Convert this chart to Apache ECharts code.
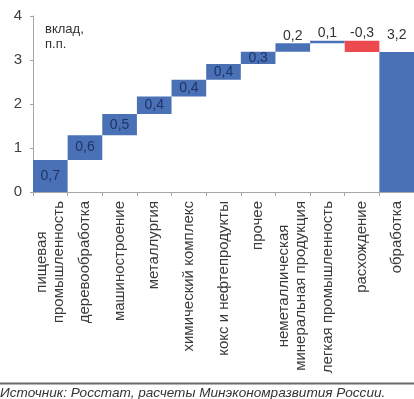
<!DOCTYPE html>
<html>
<head>
<meta charset="utf-8">
<script src="https://cdn.jsdelivr.net/npm/echarts@6/dist/echarts.min.js"></script>
<style>
html,body{margin:0;padding:0;background:#fff;}
#chart{width:414px;height:399px;}
</style>
</head>
<body>
<div id="chart"></div>
<script>
// Categories (x axis)
const categories = [
  "пищевая\nпромышленность",
  "деревообработка",
  "машиностроение",
  "металлургия",
  "химический комплекс",
  "кокс и нефтепродукты",
  "прочее",
  "неметаллическая\nминеральная продукция",
  "легкая промышленность",
  "расхождение",
  "обработка"
];
// Contributions, p.p.
const contributions = [0.73, 0.56, 0.48, 0.40, 0.38, 0.36, 0.28, 0.19, 0.06, -0.26];
// Total (last bar)
const totalValue = 3.18;
// Y axis ticks
const yTicks = [0, 1, 2, 3, 4];
const unitLines = ["вклад,", "п.п."];
const sourceText = "Источник: Росстат, расчеты Минэкономразвития России.";

const BLUE = '#4a70b6', RED = '#ec4a4f';

const baseData = [], visData = [];
let cum = 0;
contributions.forEach((d, i) => {
  const next = cum + d;
  baseData.push(Math.min(cum, next));
  const labelTop = i >= 7;
  visData.push({
    value: Math.abs(d),
    raw: d,
    itemStyle: { color: d < 0 ? RED : BLUE },
    label: labelTop
      ? { position: 'top', distance: 0, color: '#333' }
      : { position: 'inside', color: '#1f3566' }
  });
  cum = next;
});
baseData.push(0);
visData.push({
  value: totalValue,
  raw: totalValue,
  itemStyle: { color: BLUE },
  label: { position: 'top', distance: 10, color: '#333' }
});

function fmt(v) {
  return (Math.round(v * 10) / 10).toFixed(1).replace('.', ',');
}

const FONT = 'Liberation Sans, Arial, sans-serif';
const chart = echarts.init(document.getElementById('chart'), null, { renderer: 'canvas' });
chart.setOption({
  animation: false,
  backgroundColor: '#fff',
  grid: { left: 33, top: 16, width: 390, height: 176 },
  xAxis: {
    type: 'category',
    data: categories,
    axisLine: { lineStyle: { color: '#a6a6a6', width: 1 } },
    axisTick: { show: true, alignWithLabel: false, length: 4, lineStyle: { color: '#a6a6a6' } },
    axisLabel: {
      interval: 0,
      rotate: 90,
      margin: 9,
      color: '#3a3a3a',
      fontFamily: FONT,
      fontSize: 15,
      formatter: function (v) {
        return v.split('\n').map(s => '{c|' + s + '}').join('\n');
      },
      rich: { c: { align: 'center', fontSize: 15, lineHeight: 17, color: '#3a3a3a', fontFamily: FONT } }
    }
  },
  yAxis: {
    type: 'value',
    min: yTicks[0],
    max: yTicks[yTicks.length - 1],
    interval: 1,
    axisLine: { show: true, lineStyle: { color: '#a6a6a6' } },
    axisTick: { show: true, length: 3, lineStyle: { color: '#a6a6a6' } },
    splitLine: { show: false },
    axisLabel: { margin: 11, color: '#404040', fontSize: 15, fontFamily: FONT }
  },
  series: [
    {
      type: 'bar', stack: 'w', data: baseData,
      itemStyle: { color: 'transparent' }, silent: true,
      barCategoryGap: 0
    },
    {
      type: 'bar', stack: 'w', data: visData,
      barCategoryGap: 0,
      label: {
        show: true,
        fontSize: 14,
        fontFamily: FONT,
        formatter: p => fmt(p.data.raw)
      }
    }
  ],
  graphic: [
    {
      type: 'text', left: 45, top: 22,
      style: { text: unitLines.join('\n'), fill: '#333', font: '13px "Liberation Sans", Arial, sans-serif', lineHeight: 15, align: 'center', width: 46 }
    },
    {
      type: 'line', shape: { x1: 0, y1: 383.5, x2: 414, y2: 383.5 },
      style: { stroke: '#6a6a6a', lineWidth: 2 }
    },
    {
      type: 'text', left: 0, top: 386,
      style: { text: sourceText, fill: '#333', font: 'italic 13.6px "Liberation Sans", Arial, sans-serif' }
    }
  ]
});
</script>
</body>
</html>
